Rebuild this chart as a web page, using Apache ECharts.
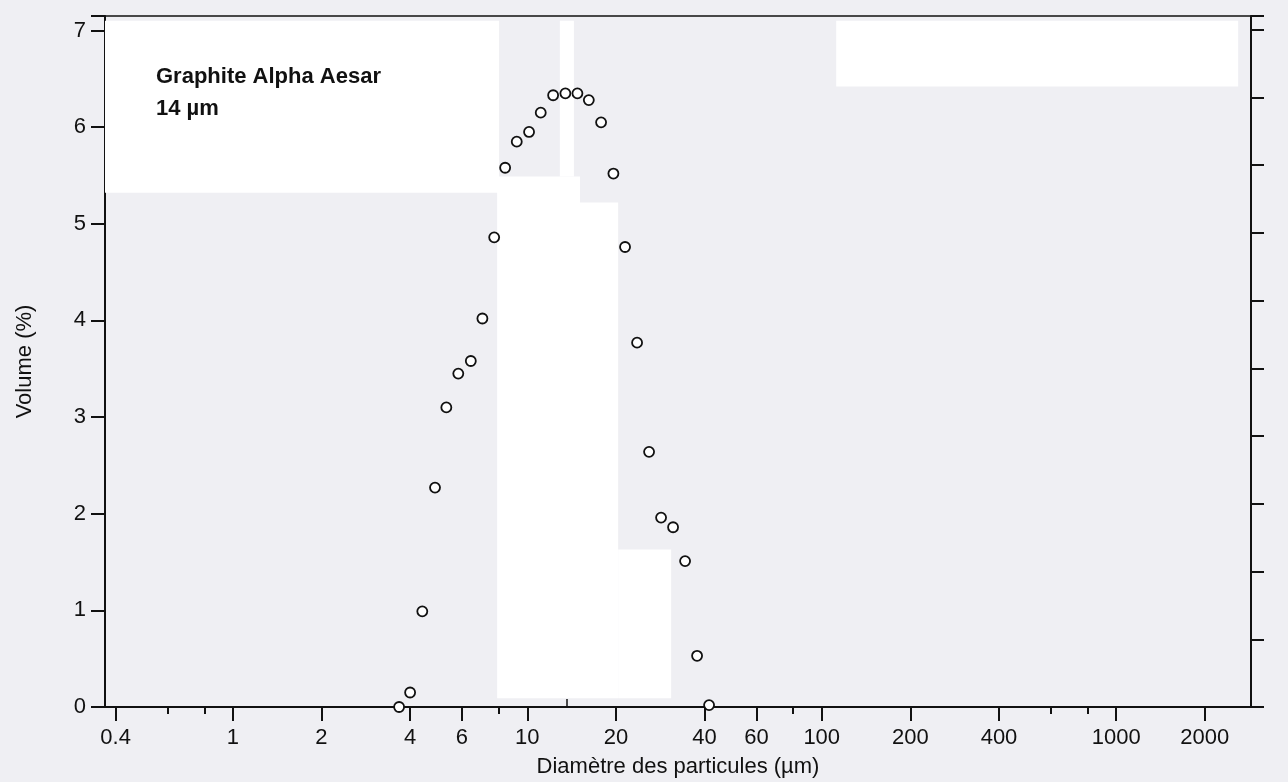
<!DOCTYPE html>
<html>
<head>
<meta charset="utf-8">
<script src="https://cdn.jsdelivr.net/npm/echarts@6/dist/echarts.min.js"></script>
<style>
  html, body { margin: 0; padding: 0; background: #efeff3; }
  #main { width: 1288px; height: 782px; }
</style>
</head>
<body>
<div id="main"></div>
<script>
// particle diameter (µm) and volume (%)
var diameters = [3.67, 4.00, 4.40, 4.86, 5.31, 5.83, 6.43, 7.04, 7.72, 8.41, 9.21, 10.14, 11.11, 12.24,
                 13.47, 14.80, 16.18, 17.81, 19.61, 21.48, 23.60, 25.92, 28.47, 31.27, 34.35, 37.73, 41.44];
var volumes = [0.00, 0.15, 0.99, 2.27, 3.10, 3.45, 3.58, 4.02, 4.86, 5.58, 5.85, 5.95, 6.15, 6.33,
               6.35, 6.35, 6.28, 6.05, 5.52, 4.76, 3.77, 2.64, 1.96, 1.86, 1.51, 0.53, 0.02];
var xTickLabels = [0.4, 1, 2, 4, 6, 10, 20, 40, 60, 100, 200, 400, 1000, 2000];
var xMinorTicks = [0.6, 0.8, 8, 80, 600, 800];
var xInnerTicks = [13.6];

// white pasted-over areas of the scan, in data units [x1, y1, x2, y2]
var whitePatches = [
  [0.368, 5.32, 8.02, 7.10],
  [12.9, 5.49, 14.4, 7.10],
  [7.90, 0.09, 15.1, 5.49],
  [15.1, 0.09, 20.35, 5.22],
  [20.35, 0.09, 30.8, 1.63],
  [112, 6.42, 2596, 7.10]
];

var chart = echarts.init(document.getElementById('main'));

var points = [];
for (var i = 0; i < diameters.length; i++) {
  points.push([diameters[i], volumes[i]]);
}

var xMin = 0.368, xMax = 2870;
var font = 'Liberation Sans, Arial, sans-serif';
var fmt = function (v) { return String(+(+v).toPrecision(6)); };

var option = {
  backgroundColor: '#efeff3',
  animation: false,
  title: {
    text: 'Graphite Alpha Aesar\n14 µm',
    left: 151,
    top: 56,
    textStyle: {
      fontFamily: font,
      fontSize: 22,
      fontWeight: 'bold',
      lineHeight: 32,
      color: '#111'
    }
  },
  grid: {
    left: 105, right: 37, top: 16, bottom: 75,
    containLabel: false,
    outerBoundsMode: 'none',
    show: true,
    backgroundColor: 'transparent',
    borderColor: '#111',
    borderWidth: 1.5
  },
  xAxis: [
    {
      type: 'log',
      min: xMin, max: xMax,
      name: 'Diamètre des particules (µm)',
      nameLocation: 'middle',
      nameGap: 49,
      nameTextStyle: { fontFamily: font, fontSize: 22, color: '#111' },
      axisLine: { lineStyle: { color: '#111', width: 2 } },
      axisTick: { length: 14, lineStyle: { color: '#111', width: 2 }, customValues: xTickLabels },
      axisLabel: {
        customValues: xTickLabels,
        margin: 20,
        formatter: fmt,
        fontFamily: font,
        fontSize: 22,
        color: '#111'
      },
      splitLine: { show: false }
    },
    {
      type: 'log',
      min: xMin, max: xMax,
      position: 'bottom',
      axisLine: { show: false },
      axisTick: { length: 7, lineStyle: { color: '#111', width: 2 }, customValues: xMinorTicks },
      axisLabel: { show: false },
      splitLine: { show: false }
    },
    {
      type: 'log',
      min: xMin, max: xMax,
      position: 'bottom',
      axisLine: { show: false },
      axisTick: { inside: true, length: 8, lineStyle: { color: '#111', width: 1.5 }, customValues: xInnerTicks },
      axisLabel: { show: false },
      splitLine: { show: false }
    }
  ],
  yAxis: [
    {
      type: 'value',
      min: 0, max: 7.15, interval: 1,
      name: 'Volume (%)',
      nameLocation: 'middle',
      nameGap: 69,
      nameRotate: 90,
      nameTextStyle: { fontFamily: font, fontSize: 22, color: '#111' },
      axisLine: { show: true, lineStyle: { color: '#111', width: 2 } },
      axisTick: { show: true, length: 14, lineStyle: { color: '#111', width: 2 } },
      axisLabel: {
        margin: 19,
        formatter: function (v) { return v > 7 ? '' : String(v); },
        fontFamily: font,
        fontSize: 22,
        color: '#111'
      },
      splitLine: { show: false }
    },
    {
      type: 'value',
      position: 'right',
      min: 0, max: 10.2, interval: 1,
      axisLine: { show: true, lineStyle: { color: '#111', width: 2 } },
      axisTick: { show: true, length: 13, lineStyle: { color: '#111', width: 2 } },
      axisLabel: { show: false },
      splitLine: { show: false }
    }
  ],
  series: [
    {
      type: 'line',
      data: [],
      z: 1,
      silent: true,
      markArea: {
        silent: true,
        itemStyle: { color: '#ffffff', borderWidth: 0 },
        data: whitePatches.map(function (p) {
          return [{ coord: [p[0], p[1]] }, { coord: [p[2], p[3]] }];
        })
      }
    },
    {
      type: 'scatter',
      data: points,
      z: 5,
      symbol: 'circle',
      symbolSize: 10,
      itemStyle: { color: '#ffffff', borderColor: '#111', borderWidth: 1.8, opacity: 1 }
    }
  ]
};

chart.setOption(option);
</script>
</body>
</html>
